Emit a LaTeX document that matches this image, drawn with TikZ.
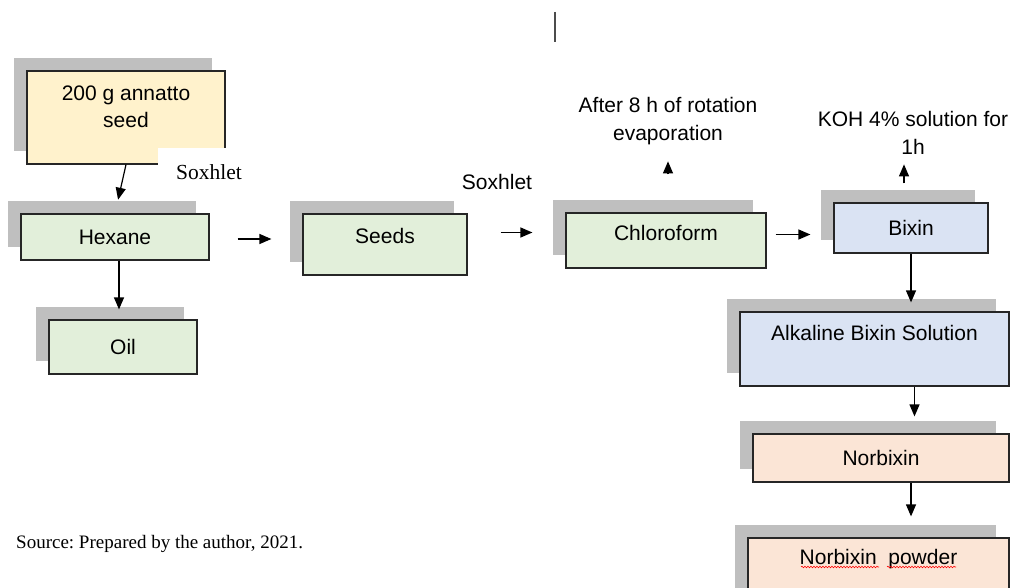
\documentclass[tikz,border=0pt]{standalone}
\usepackage{fontspec}
\setmainfont{Liberation Serif}
\setsansfont{Liberation Sans}
\usetikzlibrary{arrows.meta,shadows,decorations.pathmorphing}

\definecolor{seedyellow}{HTML}{FFF2CC}
\definecolor{stepgreen}{HTML}{E2EFDA}
\definecolor{stepblue}{HTML}{DAE3F3}
\definecolor{steppeach}{HTML}{FBE5D6}
\definecolor{shadowgray}{HTML}{BFBFBF}

\frenchspacing

\begin{document}
\begin{tikzpicture}
[
	x=1pt,
	y=-1pt,
	stepbox/.style={draw=black!85,line width=1.2pt,inner sep=0pt,align=center,
		font=\sffamily\fontsize{21}{27}\selectfont,
		general shadow={fill=shadowgray,shadow xshift=-13pt,shadow yshift=13pt}},
	note/.style={inner sep=0pt,align=center,font=\sffamily\fontsize{21}{28}\selectfont},
	flow/.style={-{Triangle[length=12pt,width=10pt]},line width=1.2pt}
]

	\useasboundingbox (0,0) rectangle (1016,588);
	\clip (0,0) rectangle (1016,588);

	% stray cursor mark
	\draw[line width=2pt,black!70] (555,12) -- (555,42);

	% left column
	\node[stepbox,fill=seedyellow,minimum width=198pt,minimum height=93pt] (seed) at (126,117.5) {200 g annatto\\seed\\[-5pt]\mbox{}};
	\node[fill=white,inner sep=0pt,minimum width=102pt,minimum height=48pt,font=\fontsize{21.5}{26}\selectfont] (soxa) at (209,172) {Soxhlet};
	\node[stepbox,fill=stepgreen,minimum width=188pt,minimum height=46pt] (hexane) at (115,237) {Hexane};
	\node[stepbox,fill=stepgreen,minimum width=148pt,minimum height=54pt] (oil) at (123,347) {Oil};

	% middle row
	\node[stepbox,fill=stepgreen,minimum width=164pt,minimum height=61pt,text height=15pt,text depth=18pt] (seeds) at (385,244.5) {Seeds};
	\node[note] (soxb) at (497,182) {Soxhlet};
	\node[stepbox,fill=stepgreen,minimum width=200pt,minimum height=55pt,text height=15pt,text depth=15pt] (chloro) at (666,240.5) {Chloroform};
	\node[note] (evap) at (668,121) {After 8 h of rotation\\evaporation};

	% right column
	\node[stepbox,fill=stepblue,minimum width=154pt,minimum height=50pt] (bixin) at (911,228) {Bixin};
	\node[note] (koh) at (913,133) {KOH 4\% solution for\\1h};
	\node[stepbox,fill=stepblue,minimum width=269pt,minimum height=74pt] (alk) at (874.5,349) {Alkaline Bixin Solution\\[5pt]\mbox{}};
	\node[stepbox,fill=steppeach,minimum width=256pt,minimum height=48pt] (nor) at (881,458) {Norbixin};
	\node[stepbox,fill=steppeach,minimum width=261pt,minimum height=70pt] (powder) at (878.5,573) {Norbixin\ \ powder\\[5pt]\mbox{}};

	% spell check underline
	\draw[red,line width=0.6pt,decorate,decoration={snake,amplitude=0.8pt,segment length=3pt}] (801,567) -- (879,567);
	\draw[red,line width=0.6pt,decorate,decoration={snake,amplitude=0.8pt,segment length=3pt}] (887,567) -- (956,567);

	% arrows
	\draw[flow,shorten >=14pt] (seed.south) -- (hexane.north);
	\draw[flow,shorten >=10pt] ([xshift=4pt]hexane.south) -- ([xshift=4pt]hexane.south |- oil.north);
	\draw[flow,shorten <=28pt,shorten >=31pt] ([yshift=-2pt]hexane.east) -- ([yshift=-2pt]hexane.east -| seeds.west);
	\draw[flow,shorten <=33pt,shorten >=33pt] ([yshift=12pt]seeds.east) -- ([yshift=12pt]seeds.east -| chloro.west);
	\draw[flow,shorten <=9pt,shorten >=23pt] ([yshift=6pt]chloro.east) -- ([yshift=6pt]chloro.east -| bixin.west);
	\draw[flow] ([xshift=2pt,yshift=38pt]chloro.north) -- ++(0,-13);
	\draw[flow] ([xshift=-7pt,yshift=19pt]bixin.north) -- ++(0,-19);
	\draw[flow,shorten >=9pt] (bixin.south) -- (bixin.south |- alk.north);
	\draw[flow,shorten >=17pt] ([xshift=40pt]alk.south) -- ([xshift=40pt]alk.south |- nor.north);
	\draw[flow,shorten >=21pt] ([xshift=30pt]nor.south) -- ([xshift=30pt]nor.south |- powder.north);

	% source
	\node[anchor=west,inner sep=0pt,font=\fontsize{19}{24}\selectfont] (source) at (16,544) {Source: Prepared by the author, 2021.};

\end{tikzpicture}
\end{document}
